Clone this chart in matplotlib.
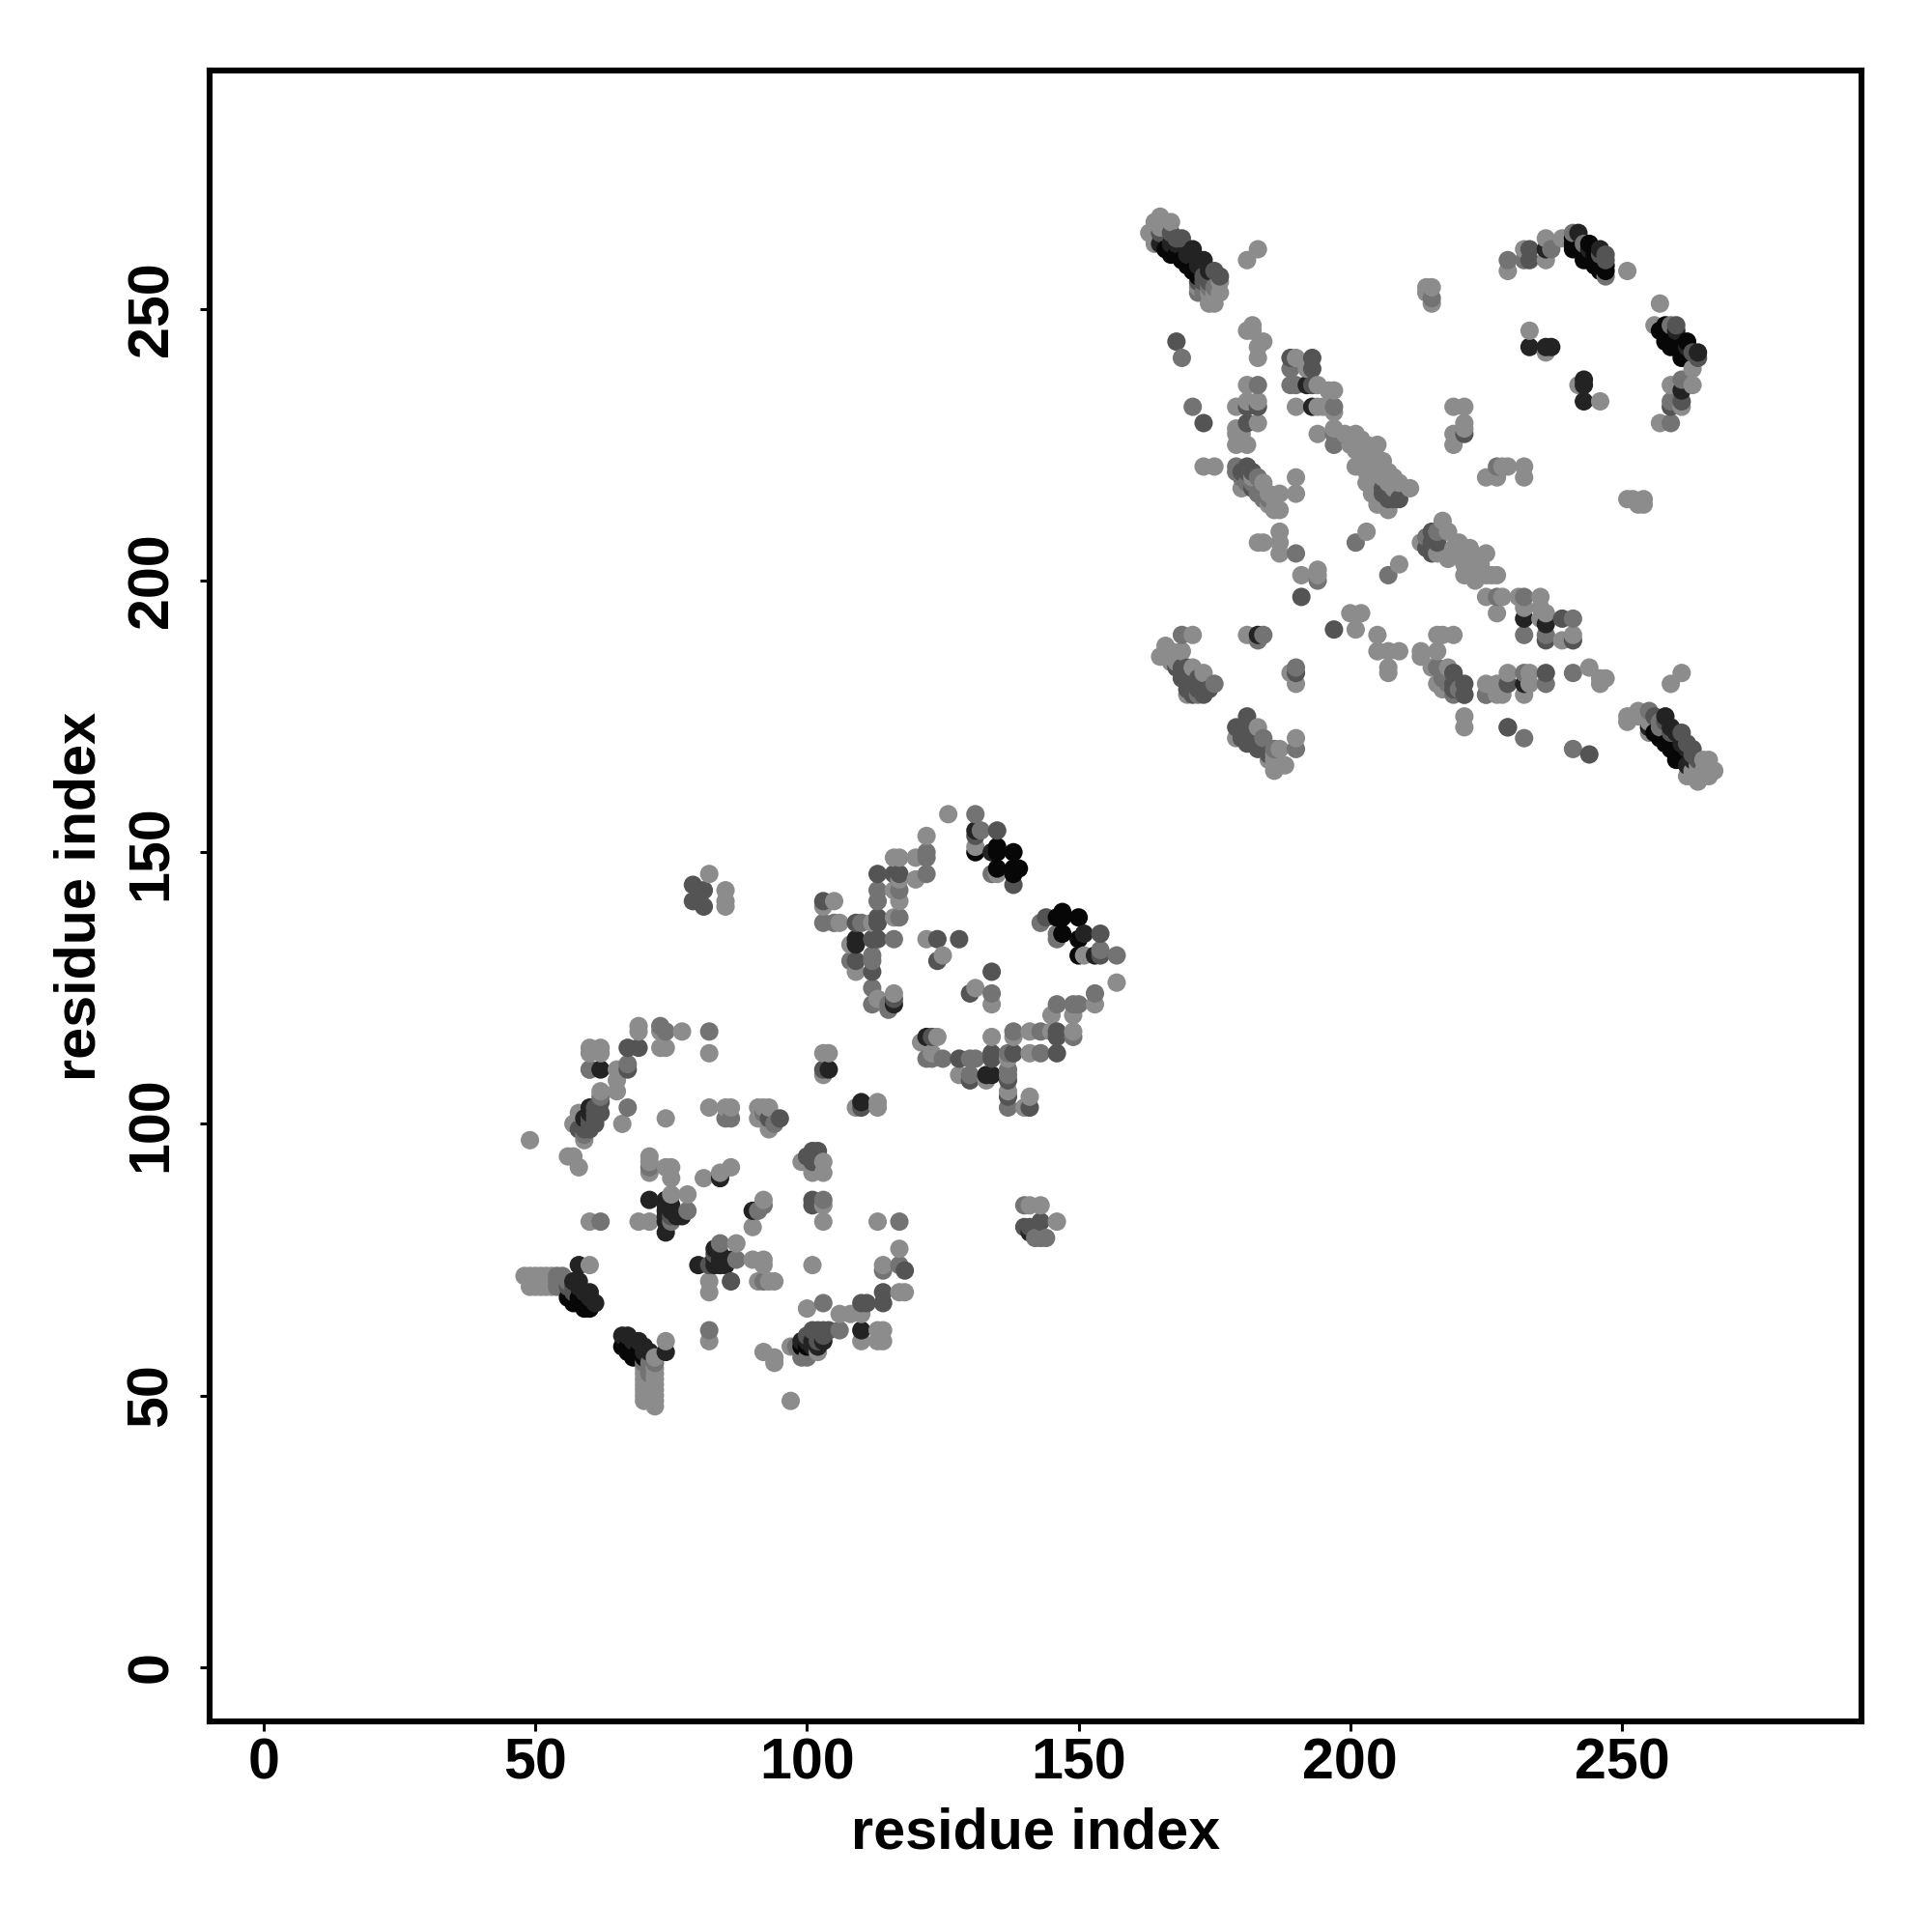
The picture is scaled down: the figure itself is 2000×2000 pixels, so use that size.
import numpy as np
from matplotlib import pyplot as plt

# contacts as (residue, residue), one list per grey level
light = [
    (69,118),(69,117),(73,117),(77,117),(60,114),(62,114),(60,113),(62,113),(73,114),(74,114),(82,113),
    (60,110),(65,110),(65,108),(65,106),(62,106),(66,100),(74,101),(58,102),(57,100),(59,97),(49,97),
    (56,94),(57,94),(58,92),(82,103),(85,103),(86,103),(91,103),(92,103),(93,103),(91,101),(93,99),
    (103,113),(104,113),(103,109),(109,103),(113,104),(113,103),(71,94),(71,93),(71,91),(74,92),(75,92),
    (75,90),(81,90),(84,91),(86,92),(75,87),(78,87),(60,82),(69,82),(71,82),(99,93),(101,91),(103,93),
    (103,91),(103,85),(103,82),(92,86),(90,81),(113,82),(117,77),(114,74),(101,74),(117,69),(118,69),
    (87,78),(90,75),(92,75),(92,74),(82,71),(82,69),(91,71),(93,71),(94,71),
    (48,72),(49,72),(50,72),(51,72),(52,72),(53,72),(49,70),(50,70),
    (51,70),(52,70),(53,70),(60,74),(74,60),(72,57),(70,55),(72,55),(70,54),(72,54),
    (70,53),(72,53),(70,52),(72,52),(70,51),(72,51),(70,50),(72,50),(70,49),(72,49),(72,48),
    (82,60),(92,58),(94,57),(94,56),(97,49),(100,66),(106,65),(108,65),(110,65),(110,60),(113,62),
    (114,62),(113,60),(114,60),(97,59),(102,58),
    (126,157),(131,151),(135,146),(122,153),(116,149),(117,149),(120,149),(120,145),(117,145),(116,143),
    (117,141),(116,138),(105,141),(103,140),(106,137),(112,137),(108,133),(109,128),(113,123),(116,124),
    (122,134),(125,131),(131,125),(134,122),(157,126),(151,131),(153,122),(145,120),(149,120),(141,117),
    (145,117),(149,117),(138,116),(134,116),(141,113),(137,112),(133,108),(128,109),(137,106),(140,103),
    (141,105),(124,116),(121,115),(123,113),
    (82,146),(85,143),(85,141),(85,140),(141,85),(143,85),(146,82),
    (163,264),(164,266),(165,267),(164,262),(166,266),(167,266),(172,254),(176,255),(176,253),(175,251),
    (174,251),(183,261),(181,259),(215,254),(214,254),(214,253),(215,251),(229,257),(232,261),(233,246),
    (182,247),(181,246),(182,246),(184,244),(183,243),(183,241),(190,241),(192,239),(181,236),(194,236),
    (196,235),(197,235),(194,232),(195,232),(197,231),(190,232),(179,232),(181,233),(183,233),(183,229),
    (179,228),(179,227),(179,225),(181,225),(180,227),(194,227),(197,228),(173,221),(175,221),(182,219),
    (180,217),(184,218),(187,216),(186,213),(187,213),(186,215),(190,219),(190,216),
    (199,227),(201,227),(202,226),(200,225),(201,224),(201,221),(205,225),(205,222),(206,222),(207,220),
    (204,218),(205,216),(207,213),(209,218),(211,217),(206,220),(225,219),(227,219),(228,221),(229,221),
    (232,221),(232,219),(219,232),(221,232),(221,229),(219,227),(219,225),(221,228),
    (183,207),(184,207),(187,209),(187,207),(187,205),(191,201),(194,202),(194,201),(203,209),(209,203),
    (213,207),(217,211),(218,209),(216,205),(218,204),(220,207),(222,206),(225,205),(222,204),(221,201),
    (225,201),(226,201),(227,201),
    (236,263),(239,263),(236,259),(251,257),(257,251),(256,247),(263,239),(259,236),(263,236),(261,232),
    (257,229),(236,242),(242,236),(246,233),(251,215),(252,215),(254,215),(254,214),(253,214),
    (171,190),(166,188),(165,186),(167,187),(169,187),(168,185),(171,184),(173,183),(181,190),(189,183),
    (190,181),(183,173),(179,171),(187,169),(190,171),(186,166),(188,166),(186,165),(200,194),(202,194),
    (201,191),(205,190),(205,187),(207,187),(209,187),(207,184),(207,183),(213,187),(213,186),(216,187),
    (216,190),(217,190),(219,190),(215,184),(218,184),(216,181),(217,180),(221,175),(221,173),(225,179),
    (227,179),(228,179),(225,197),(228,197),(231,197),(235,197),(232,195),(235,195),(236,194),(235,193),
    (227,194),(241,190),(239,189),(232,179),(244,184),(246,182),(247,182),(246,181),(233,183),(233,181),
    (229,183),(227,181),(225,181),(261,183),(259,181),(251,175),(251,174),(252,175),(253,176),(255,172),
    (262,164),(266,167),(267,165),(266,164),(264,163),
    (203,223),(204,222),(204,221),(203,220),(206,219),(207,218),(205,214),(208,219),(208,217),
    (219,206),(219,205),(221,204),(221,203),(222,202),(223,204),(224,203),(224,202),(223,201),(223,200),
    (202,224),(203,225),(204,224),(202,222),(203,218),(204,216),(206,214),(220,205),(221,206),(223,203),
    (166,186),(167,185),(170,179),(185,167),(186,168),(186,167),(165,265),(166,265),(174,253),(175,253),
    (185,214),(185,216),(255,174),(253,175),(263,165),(264,166),(265,165),(265,167),(263,164),
]
mid = [
    (73,118),(74,117),(82,117),(60,110),(67,111),(62,105),(67,103),(59,98),(85,101),(86,101),(92,102),
    (94,100),(71,92),(78,84),(75,82),(62,82),(92,85),(91,84),(103,86),(117,82),(114,73),(117,74),(84,78),
    (87,75),(92,71),(82,62),(103,67),(106,62),(98,59),(99,57),(100,57),
    (131,157),(132,154),(134,146),(122,149),(122,150),(122,146),(113,143),(113,141),(117,143),(117,138),
    (103,137),(105,137),(110,137),(116,134),(108,130),(112,131),(112,130),(112,125),(112,122),(115,122),
    (115,121),(134,124),(157,131),(154,132),(143,137),(146,135),(146,134),(153,124),(150,122),(149,122),
    (146,122),(138,117),(143,117),(149,116),(143,113),(137,113),(137,110),(137,109),(137,103),(130,112),
    (131,112),(130,109),(122,112),(123,112),(125,112),
    (140,85),(143,79),(144,79),(142,79),
    (229,259),(169,241),(171,232),(215,252),(189,239),(189,236),(190,236),(183,236),(197,232),(197,225),
    (197,227),(179,221),(179,220),(180,219),(183,219),(184,215),(183,216),(227,221),(232,259),(201,207),
    (207,201),(190,205),(241,264),(243,262),(247,256),(237,261),(259,247),(261,237),(259,233),(259,229),
    (169,190),(175,181),(184,190),(183,189),(190,184),(184,171),(190,169),(194,200),(216,184),(217,183),
    (219,183),(219,179),(221,179),(229,173),(227,197),(232,197),(241,193),(232,190),(236,190),(241,183),
    (236,181),(232,183),(225,179),(232,171),(241,169),(255,176),
    (54,72),(55,72),(54,70),(55,70),(54,71),(55,71),(56,71),(70,56),(71,56),(71,54),(72,56),
    (181,218),(182,218),(184,216),(185,215),(217,182),(218,182),(218,181),(220,180),(214,208),(216,209),
    (172,253),(173,253),(174,254),(175,254),(257,173),(257,174),(172,179),(186,169),
]
dark = [
    (67,114),(69,114),(67,110),(62,104),(61,103),(62,102),(61,101),(60,101),(58,99),(93,101),(95,101),
    (101,95),(102,95),(100,94),(101,93),(101,86),(101,85),(75,83),(118,73),(114,69),(114,67),(83,76),
    (82,74),(86,71),(110,67),(111,67),(100,61),(101,62),(102,62),(103,62),(104,62),(103,110),
    (135,154),(131,153),(138,144),(113,146),(116,146),(117,146),(103,141),(109,137),(113,138),(113,137),
    (112,134),(113,134),(109,130),(112,128),(116,123),(124,134),(128,134),(124,130),(134,128),(130,124),
    (154,135),(154,131),(144,138),(146,117),(146,116),(146,113),(134,113),(134,112),(138,113),(137,108),
    (128,112),(130,108),(137,105),(141,103),(123,116),(110,103),
    (79,144),(79,141),(81,143),(81,140),(140,81),(141,81),(143,82),
    (165,264),(169,263),(175,257),(233,259),(168,244),(173,229),(181,232),(183,232),(189,241),(193,241),
    (193,239),(193,236),(181,229),(181,221),(182,217),(206,217),(207,216),(209,215),(215,209),(215,207),
    (216,207),(221,227),(233,261),(246,260),(247,260),(247,259),(260,247),(263,242),(264,241),(259,232),
    (261,233),(191,197),(197,191),(168,184),(169,183),(170,181),(171,182),(172,181),(173,181),(173,179),
    (171,179),(190,183),(181,175),(179,173),(180,171),(184,169),(183,169),(221,181),(221,179),(229,181),
    (229,173),(239,193),(236,189),(241,189),(236,183),(256,175),(263,169),(244,168),(219,183),
    (56,70),(57,70),(57,69),(59,100),(59,99),(60,100),(60,99),(61,100),(61,102),(102,60),(103,61),(102,61),
    (169,182),(170,182),(170,180),(171,180),(172,180),(174,180),(172,182),(169,184),(170,184),(170,183),
    (180,173),(180,172),(181,172),(181,170),(182,171),(182,170),(183,170),(184,170),(185,168),
    (174,255),(173,256),(172,255),(173,255),(176,256),(258,174),(259,172),(261,172),(262,170),(263,168),
    (264,167),(206,216),(207,215),(208,215),(214,206),(215,206),(216,208),(215,205),(219,181),(219,180),
    (167,264),(168,263),(180,220),(181,220),(182,220),
]
near_black = [
    (62,110),(60,103),(104,110),(110,104),(71,86),(74,86),(74,83),(74,82),(74,80),(75,85),(77,83),(90,84),
    (84,90),(83,77),(80,74),(83,74),(85,74),(86,75),(58,74),(57,71),(58,71),(60,69),(61,67),(66,61),(67,61),
    (69,60),(71,58),(74,58),(110,62),(99,60),(101,59),(103,60),
    (131,154),(134,150),(109,134),(109,133),(116,122),(153,131),(151,135),(134,109),(133,109),(122,116),
    (171,261),(173,259),(165,262),(233,243),(192,236),(193,232),(242,264),(236,261),(264,242),(261,235),
    (236,243),(237,243),(243,237),(243,236),(243,233),(183,190),(232,193),(236,192),(232,181),(255,173),
    (259,173),(261,170),(262,166),(141,80),
    (60,102),(59,101),(74,85),(74,84),(75,84),(76,83),(84,76),(84,75),(84,74),(83,75),(58,70),(59,69),
    (60,68),(68,60),(70,59),(70,58),(100,60),(101,60),(102,59),(167,262),(168,262),(170,260),(172,258),
    (174,257),(260,172),(258,175),(262,169),(263,167),(244,261),(246,261),(260,246),(262,243),
]
black = [
    (59,66),(58,68),(56,68),(66,59),(68,57),(100,59),(99,59),
    (131,150),(135,151),(135,150),(138,150),(135,147),(138,147),(139,147),(138,146),(150,131),(150,134),
    (150,138),(147,139),(147,138),(147,135),(146,138),
    (168,260),(170,258),(172,256),(241,261),(244,262),(243,259),(244,259),(245,259),(247,257),(246,257),
    (258,247),(258,244),(259,243),(262,244),(261,241),(258,170),(260,168),
    (57,68),(57,67),(58,67),(59,67),(60,66),(67,59),(67,58),(69,58),(69,57),(70,57),
    (166,261),(167,260),(169,259),(171,257),(257,171),(256,172),(259,169),(260,167),(261,167),
    (241,262),(241,263),(242,261),(243,261),(243,260),(244,260),(245,258),(245,260),(246,258),(246,259),(247,258),
    (257,246),(258,246),(258,245),(259,245),(259,244),(260,243),(260,244),(261,243),(261,242),(262,241),(262,242),
]

grey_levels = [0.55, 0.45, 0.33, 0.14, 0.03]
tick_values = [0, 50, 100, 150, 200, 250]

groups = [light, mid, dark, near_black, black]
pts = np.array([p for g in groups for p in g], dtype=float)
cols = np.concatenate([[v] * len(g) for v, g in zip(grey_levels, groups)])
# later residues sit on top, same as the original loop order
order = np.lexsort((pts[:, 1], pts[:, 0]))

plt.rcParams['font.family'] = ['Liberation Sans']
plt.rcParams['font.weight'] = 'bold'

fig = plt.figure(figsize=(10, 10), dpi=200)
ax = fig.add_axes([217 / 2000, 1 - 1782 / 2000, 1710 / 2000, 1709 / 2000])
ax.scatter(pts[order, 0], pts[order, 1], c=cols[order], cmap='gray', vmin=0, vmax=1, s=47, linewidths=0)

ax.set_xlim(-9.96, 294.1)
ax.set_ylim(-10, 293.9)
ax.set_xticks(tick_values)
ax.set_yticks(tick_values)
ax.tick_params(length=3.5, width=1.1, labelsize=21.3)
ax.tick_params(axis='x', pad=2.5)
ax.tick_params(axis='y', pad=8)
for t in ax.get_yticklabels():
    t.set_rotation(90)
    t.set_va('center')
for s in ax.spines.values():
    s.set_linewidth(2.2)

ax.set_xlabel('residue index', fontsize=21.4, fontweight='bold')
ax.set_ylabel('residue index', fontsize=21.4, fontweight='bold')
ax.xaxis.set_label_coords(0.5, -0.0515)
ax.yaxis.set_label_coords(-0.0625, 0.5)

plt.savefig('out.png')
